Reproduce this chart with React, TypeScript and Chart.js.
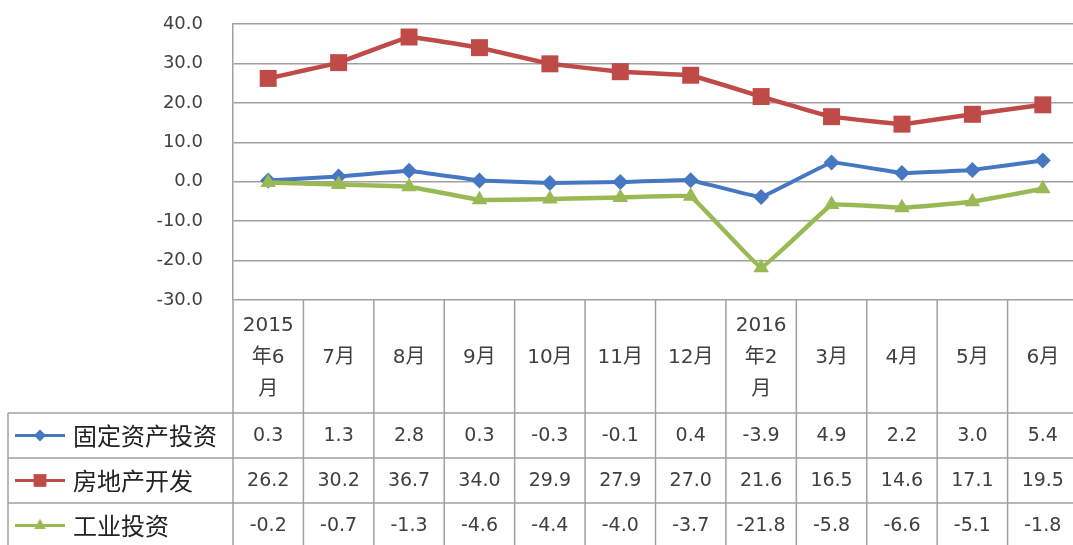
import { useEffect, useRef } from "react";
import { Chart, registerables } from "chart.js";

Chart.register(...registerables);

const categories: string[][] = [
  ["2015", "年6", "月"],
  ["7月"],
  ["8月"],
  ["9月"],
  ["10月"],
  ["11月"],
  ["12月"],
  ["2016", "年2", "月"],
  ["3月"],
  ["4月"],
  ["5月"],
  ["6月"],
];
const seriesNames = ["固定资产投资", "房地产开发", "工业投资"];
const fixedAsset = [0.3, 1.3, 2.8, 0.3, -0.3, -0.1, 0.4, -3.9, 4.9, 2.2, 3.0, 5.4];
const realEstate = [26.2, 30.2, 36.7, 34.0, 29.9, 27.9, 27.0, 21.6, 16.5, 14.6, 17.1, 19.5];
const industry = [-0.2, -0.7, -1.3, -4.6, -4.4, -4.0, -3.7, -21.8, -5.8, -6.6, -5.1, -1.8];
const yMin = -30;
const yMax = 40;
const yStep = 10;

const colors = ["#4677C2", "#BE4B48", "#98B954"];
const pointStyles = ["rectRot", "rect", "triangle"];
const pointRadii = [8, 12, 9];
const seriesValues = [fixedAsset, realEstate, industry];

const GRID = "#a0a0a0";
const TEXT = "#404040";
const NUM_FONT = '"DejaVu Sans", "Noto Sans CJK SC", sans-serif';
const CJK_FONT = '"Noto Sans CJK SC", "DejaVu Sans", sans-serif';

function drawMarker(ctx: CanvasRenderingContext2D, style: string, x: number, y: number, r: number, color: string) {
  ctx.save();
  ctx.fillStyle = color;
  ctx.beginPath();
  if (style === "rectRot") {
    ctx.moveTo(x, y - r);
    ctx.lineTo(x + r, y);
    ctx.lineTo(x, y + r);
    ctx.lineTo(x - r, y);
  } else if (style === "rect") {
    const s = r * Math.SQRT1_2;
    ctx.rect(x - s, y - s, 2 * s, 2 * s);
  } else {
    ctx.moveTo(x, y - r);
    ctx.lineTo(x + r * Math.sin((2 * Math.PI) / 3), y - r * Math.cos((2 * Math.PI) / 3));
    ctx.lineTo(x - r * Math.sin((2 * Math.PI) / 3), y - r * Math.cos((2 * Math.PI) / 3));
  }
  ctx.closePath();
  ctx.fill();
  ctx.restore();
}

const tablePlugin = {
  id: "dataTable",
  afterDraw(chart: any) {
    const ctx: CanvasRenderingContext2D = chart.ctx;
    const xs = chart.scales.x;
    const area = chart.chartArea;
    const n = categories.length;
    const colW = (area.right - area.left) / n;
    const headerTop = area.bottom;
    const headerBottom = 413;
    const rowH = 45;
    const legendLeft = 8;
    const bottom = chart.height + 5;

    ctx.save();
    ctx.strokeStyle = GRID;
    ctx.lineWidth = 1.5;
    for (let r = 0; r <= seriesNames.length; r++) {
      const y = headerBottom + r * rowH;
      ctx.beginPath();
      ctx.moveTo(legendLeft, y);
      ctx.lineTo(area.right, y);
      ctx.stroke();
    }
    ctx.beginPath();
    ctx.moveTo(legendLeft, headerBottom);
    ctx.lineTo(legendLeft, bottom);
    ctx.stroke();
    for (let k = 0; k <= n; k++) {
      const x = area.left + k * colW;
      ctx.beginPath();
      ctx.moveTo(x, headerTop);
      ctx.lineTo(x, bottom);
      ctx.stroke();
    }

    ctx.fillStyle = TEXT;
    ctx.textAlign = "center";
    ctx.textBaseline = "middle";
    ctx.font = `20px ${NUM_FONT}`;
    const headerMid = (headerTop + headerBottom) / 2 + 1;
    const lh = 32;
    categories.forEach((lines, i) => {
      const cx = xs.getPixelForValue(i);
      const start = headerMid - ((lines.length - 1) * lh) / 2;
      lines.forEach((t, j) => ctx.fillText(t, cx, start + j * lh));
    });

    seriesNames.forEach((name, r) => {
      const cy = headerBottom + r * rowH + rowH / 2;
      ctx.strokeStyle = colors[r];
      ctx.lineWidth = 3;
      ctx.beginPath();
      ctx.moveTo(15, cy);
      ctx.lineTo(65, cy);
      ctx.stroke();
      drawMarker(ctx, pointStyles[r], 40, cy, pointRadii[r] * 0.75, colors[r]);
      ctx.fillStyle = "#222";
      ctx.textAlign = "left";
      ctx.font = `24px ${CJK_FONT}`;
      ctx.fillText(name, 73, cy);
      ctx.fillStyle = TEXT;
      ctx.textAlign = "center";
      ctx.font = `19px ${NUM_FONT}`;
      seriesValues[r].forEach((v, i) => {
        ctx.fillText(v.toFixed(1), xs.getPixelForValue(i), cy + 1);
      });
    });
    ctx.restore();
  },
};

export default function App() {
  const ref = useRef<HTMLCanvasElement | null>(null);
  useEffect(() => {
    if (!ref.current) return;
    const chart = new Chart(ref.current, {
      type: "line",
      data: {
        labels: categories.map((c) => c.join("")),
        datasets: seriesNames.map((name, i) => ({
          label: name,
          data: seriesValues[i],
          borderColor: colors[i],
          backgroundColor: colors[i],
          pointBackgroundColor: colors[i],
          pointBorderColor: colors[i],
          pointStyle: pointStyles[i] as any,
          pointRadius: pointRadii[i],
          pointBorderWidth: 0,
          borderWidth: i === 0 ? 4 : 4.5,
          tension: 0.05,
          order: 2 - i,
        })),
      },
      options: {
        responsive: false,
        animation: false,
        devicePixelRatio: 1,
        layout: { padding: { left: 0, right: 5, top: 24, bottom: 245 } },
        plugins: { legend: { display: false }, tooltip: { enabled: false }, title: { display: false } },
        scales: {
          x: { type: "category", offset: true, display: false },
          y: {
            min: yMin,
            max: yMax,
            afterFit: (scale: any) => {
              scale.width = 233;
            },
            ticks: {
              stepSize: yStep,
              padding: 3,
              color: TEXT,
              font: { family: NUM_FONT, size: 18 },
              callback: (v: any) => Number(v).toFixed(1),
            },
            grid: { color: GRID, lineWidth: 1.5, drawTicks: true, tickLength: 27, tickColor: "rgba(0,0,0,0)" },
            border: { display: true, color: GRID, width: 1.5 },
          },
        },
      },
      plugins: [tablePlugin],
    });
    return () => chart.destroy();
  }, []);
  return (
    <div style={{ position: "absolute", left: 0, top: 0, width: 1073, height: 545, overflow: "hidden", background: "#fff" }}>
      <canvas ref={ref} width={1090} height={545} style={{ width: 1090, height: 545, display: "block" }} />
    </div>
  );
}
